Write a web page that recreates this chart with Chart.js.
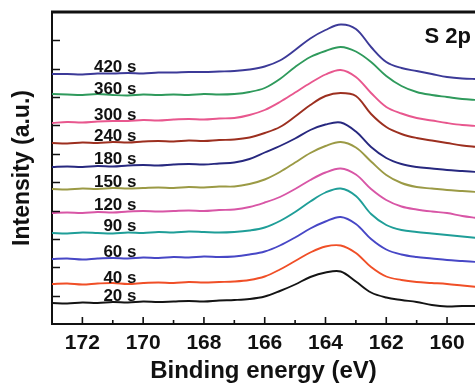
<!DOCTYPE html>
<html>
<head>
<meta charset="utf-8">
<script src="https://cdn.jsdelivr.net/npm/chart.js@4.4.1/dist/chart.umd.min.js"></script>
<style>
  html, body { margin: 0; padding: 0; background: #fff; overflow: hidden; }
  #wrap { width: 475px; height: 383px; }
</style>
</head>
<body>
<div id="wrap"><canvas id="xps"></canvas></div>
<script>
// Binding energy grid (eV), high to low as in the plot.
const energies = [173, 172.5, 172, 171.5, 171, 170.5, 170, 169.5, 169, 168.5, 168, 167.5, 167, 166.5,
  166, 165.5, 165, 164.5, 164, 163.5, 163, 162.5, 162, 161.5, 161, 160.5, 160, 159.5, 159];

// Stacked S 2p spectra, offset intensities (a.u.), one per sputter time.
const times = ["420 s", "360 s", "300 s", "240 s", "180 s", "150 s", "120 s", "90 s", "60 s", "40 s", "20 s"];
const s420 = [241, 241, 240.5, 241.5, 241.5, 242, 241.5, 242.5, 242.5, 243, 243, 243.5, 244, 245.5, 248.5, 254.5, 265, 276.5, 285, 290.5, 286, 268, 253, 247, 244, 241, 238, 236.5, 236];
const s360 = [221, 220.5, 220, 221, 220, 219.5, 220.5, 220, 220.5, 220, 221, 220.5, 221, 223, 227, 236, 248, 258, 264, 268, 263.5, 253, 239, 229, 223, 220, 218, 216, 215];
const s300 = [192, 193, 192.5, 193.5, 194, 194, 195, 194.5, 195.5, 196, 195.5, 196.5, 197, 200, 205, 213, 222.5, 232, 240.5, 245, 238, 222, 208, 201.5, 197, 194.5, 192, 190, 189];
const s240 = [172, 171.5, 172.5, 172, 173, 172.5, 173.5, 174, 173.5, 174.5, 174, 175, 175.5, 177.5, 182, 188, 198.5, 210, 219, 222, 219, 201, 188, 181, 177, 174.5, 172, 169.5, 168];
const s180 = [148, 148.5, 148, 149, 148.5, 149.5, 150, 149.5, 150.5, 151, 150.5, 151.5, 152.5, 156, 162.5, 169, 176.5, 185, 190.5, 192.5, 183.5, 168, 157, 151, 148, 146.5, 145, 144, 143];
const s150 = [126, 125.5, 126.5, 126, 127, 126.5, 127, 127.5, 127, 128, 127.5, 128.5, 128.5, 131, 135.5, 143, 152.5, 162, 169, 173, 167.5, 153.5, 140, 132, 128, 126.5, 125, 124, 123];
const s120 = [102, 102.5, 102, 103, 102.5, 103.5, 104, 103.5, 104, 104.5, 104, 105, 105.5, 108, 112.5, 118, 126, 135, 142.5, 146.5, 140.5, 126, 115, 108.5, 105.5, 103.5, 102, 99, 97];
const s90 = [82, 81.5, 82.5, 82, 81.5, 82.5, 82, 83, 82.5, 83.5, 83, 82.5, 83, 84.5, 87.5, 94, 103, 113.5, 122.5, 126.5, 119, 101, 90, 85, 83, 81.5, 80, 78.5, 77];
const s60 = [56, 56.5, 55.5, 56.5, 57, 56.5, 57.5, 57, 58, 57.5, 58.5, 58, 58.5, 60.5, 63.5, 69.5, 77.5, 86.5, 93.5, 98, 91, 76, 65.5, 60.5, 58, 56.5, 55, 54, 53];
const s40 = [31, 31.5, 30.5, 31.5, 32, 31, 32, 32.5, 32, 33, 32.5, 33, 33.5, 35, 38.5, 45.5, 54, 62.5, 68.5, 69.5, 62, 48, 38.5, 35, 33, 32, 31, 29.5, 28];
const s20 = [12, 11.5, 12.5, 12, 13, 12.5, 13.5, 13, 13.5, 14, 13.5, 14.5, 15, 16, 18.5, 24, 30.5, 38, 42.5, 43.5, 33.5, 22.5, 17.5, 15, 13, 10, 8.5, 9, 9];

const series = [s420, s360, s300, s240, s180, s150, s120, s90, s60, s40, s20];
const colors = ["#3c3a98", "#2f9a5c", "#e8578e", "#9c2f1f", "#27287f", "#9b9a45",
  "#d856a6", "#1f9e98", "#4747c6", "#f04f27", "#141414"];

const FONT = "'Liberation Sans', Arial, sans-serif";
const INK = "#111";

// Inward ticks, top frame line, curve labels and the "S 2p" tag.
const decorations = {
  id: "decorations",
  afterDatasetsDraw(chart) {
    const { ctx, chartArea: a, scales: { x, y } } = chart;
    ctx.save();
    ctx.strokeStyle = INK;
    ctx.lineWidth = 1.6;
    ctx.beginPath();
    x.ticks.forEach(t => {
      const v = Math.round(t.value);
      if (Math.abs(t.value - v) > 1e-6) return;
      const px = x.getPixelForValue(v);
      const len = v % 2 === 0 ? 7 : 4;
      ctx.moveTo(px, a.bottom);
      ctx.lineTo(px, a.bottom - len);
    });
    y.ticks.forEach(t => {
      if (t.value <= y.min || t.value >= y.max) return;
      const py = Math.round(y.getPixelForValue(t.value)) + 0.5;
      ctx.moveTo(a.left, py);
      ctx.lineTo(a.left + 8, py);
    });
    ctx.stroke();

    ctx.lineWidth = 3;
    ctx.beginPath();
    ctx.moveTo(a.left - 1, a.top);
    ctx.lineTo(a.right, a.top);
    ctx.stroke();

    ctx.fillStyle = INK;
    ctx.font = "bold 17px " + FONT;
    ctx.textAlign = "right";
    ctx.textBaseline = "alphabetic";
    const lx = x.getPixelForValue(170.22);
    chart.data.datasets.forEach(ds => {
      const py = y.getPixelForValue(ds.data[5].y);
      ctx.fillText(ds.label, lx, py - 1.5);
    });

    ctx.font = "bold 22px " + FONT;
    ctx.fillText("S 2p", a.right - 4, a.top + 31);
    ctx.restore();
  },
};

new Chart(document.getElementById("xps"), {
  type: "line",
  data: {
    datasets: series.map((vals, i) => ({
      label: times[i],
      data: vals.map((v, j) => ({ x: energies[j], y: v })),
      borderColor: colors[i],
      borderWidth: 1.9,
      pointRadius: 0,
      tension: 0.35,
      fill: false,
    })),
  },
  options: {
    responsive: true,
    maintainAspectRatio: false,
    animation: false,
    layout: { padding: { top: 12, right: 0, bottom: 0, left: 0 } },
    plugins: { legend: { display: false }, tooltip: { enabled: false } },
    scales: {
      x: {
        type: "linear",
        reverse: true,
        min: 159.08,
        max: 173,
        grid: { display: false, drawTicks: false },
        border: { display: true, color: INK, width: 2 },
        ticks: {
          stepSize: 1,
          includeBounds: false,
          autoSkip: false,
          maxRotation: 0,
          padding: 7,
          color: INK,
          font: { family: FONT, size: 21, weight: "bold" },
          callback: v => (Number.isInteger(v) && v % 2 === 0 ? String(v) : ""),
        },
        title: {
          display: true,
          text: "Binding energy (eV)",
          color: INK,
          font: { family: FONT, size: 24, weight: "bold", lineHeight: 1 },
          padding: { top: 0, bottom: 0 },
        },
        afterFit: s => { s.height = 59; },
      },
      y: {
        min: -9,
        max: 303,
        grid: { display: false, drawTicks: false },
        border: { display: true, color: INK, width: 2 },
        ticks: { display: false, stepSize: 28.4, includeBounds: false },
        title: {
          display: true,
          text: "Intensity (a.u.)",
          color: INK,
          font: { family: FONT, size: 23, weight: "bold", lineHeight: 1 },
          padding: { top: 11, bottom: 0 },
        },
        afterFit: s => { s.width = 52; },
      },
    },
  },
  plugins: [decorations],
});
</script>
</body>
</html>
